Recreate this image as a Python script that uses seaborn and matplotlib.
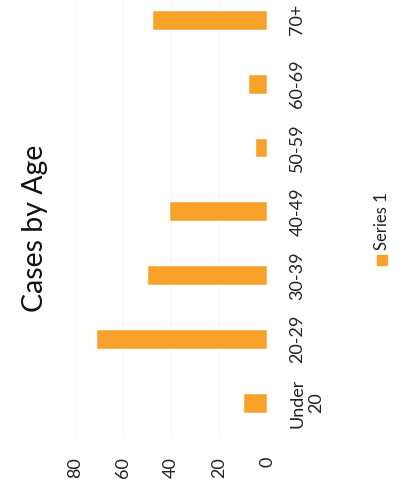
import matplotlib
matplotlib.use("Agg")
import matplotlib.pyplot as plt
import seaborn as sns
import pandas as pd
from matplotlib.patches import Rectangle

# chart is drawn turned a quarter turn, as in the scan
ages = ["Under\n20", "20-29", "30-39", "40-49", "50-59", "60-69", "70+"]
cases = [10, 71, 50, 41, 5, 8, 48]
value_ticks = [0, 20, 40, 60, 80]
series_name = "Series 1"
bar_color = "#F8A22C"

sns.set_theme(style="white")
plt.rcParams['font.family'] = ['Lato', 'DejaVu Sans']

fig = plt.figure(figsize=(4.09, 4.87), dpi=100)
ax = fig.add_axes([0.183, 0.107, 0.47, 0.918])

df = pd.DataFrame({"age": ages, "cases": cases})
sns.barplot(data=df, y="age", x="cases", orient="h", color=bar_color,
            saturation=1, width=0.31, ax=ax)

ax.set_ylim(-0.5, len(ages) - 0.5)
ax.set_xlim(value_ticks[-1], value_ticks[0])
ax.set_xticks(value_ticks)
ax.set_xticklabels([str(v) for v in value_ticks], rotation=90)
ax.yaxis.tick_right()
ax.tick_params(axis='y', length=0, pad=16, labelsize=13, labelcolor="#222222")
ax.tick_params(axis='x', length=0, pad=16, labelsize=13, labelcolor="#222222")
for lbl in ax.get_yticklabels():
    lbl.set_rotation(90)
    lbl.set_ha('left')
    lbl.set_va('center')
    lbl.set_multialignment('center')
ax.set_xlabel("")
ax.set_ylabel("")
ax.xaxis.grid(True, color="#f6f6f6", lw=0.8)
ax.set_axisbelow(True)
sns.despine(ax=ax, left=True, bottom=True, right=True, top=True)

fig.text(0.085, 0.532, "Cases by Age", rotation=90, fontsize=20.5,
         ha='center', va='center', color="#111111")

# legend, turned like the rest
fig.add_artist(Rectangle((0.922, 0.456), 0.024, 0.02, transform=fig.transFigure,
                         color=bar_color))
fig.text(0.934, 0.545, series_name, rotation=90, fontsize=12,
         ha='center', va='center', color="#222222")

fig.savefig("out.png", dpi=100)
